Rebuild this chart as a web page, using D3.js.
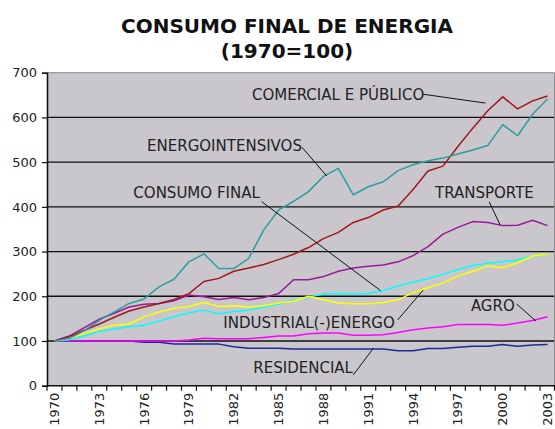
<!DOCTYPE html>
<html>
<head>
<meta charset="utf-8">
<script src="https://cdn.jsdelivr.net/npm/d3@7"></script>
<style>
  html, body { margin: 0; padding: 0; background: #fff; }
  #chart { width: 555px; height: 429px; }
</style>
</head>
<body>
<div id="chart"></div>
<script>
// anos 1970..2003
const years = d3.range(1970, 2004);
const yTicks = [0, 100, 200, 300, 400, 500, 600, 700];
const xLabelYears = years.filter(y => (y - 1970) % 3 === 0);

const energointensivos = [100, 106, 123, 146, 165, 184, 194, 221, 238, 277, 295, 262, 262, 285, 348, 393, 412, 434, 468, 486, 427, 445, 456, 481, 494, 503, 509, 518, 527, 537, 584, 559, 607, 641];
const comercial = [100, 110, 124, 138, 153, 167, 176, 184, 193, 206, 233, 240, 256, 263, 271, 282, 294, 309, 329, 343, 365, 376, 393, 402, 439, 480, 491, 535, 576, 615, 646, 619, 637, 648];
const transporte = [100, 111, 130, 149, 162, 176, 182, 184, 190, 203, 199, 193, 197, 192, 197, 206, 237, 237, 244, 256, 263, 267, 270, 277, 291, 311, 339, 354, 367, 365, 358, 359, 370, 358];
const industrial = [100, 106, 117, 127, 135, 138, 154, 165, 173, 177, 186, 177, 179, 176, 179, 185, 189, 200, 192, 185, 183, 183, 186, 192, 208, 219, 230, 245, 256, 268, 264, 275, 290, 294];
const consumoFinal = [100, 103, 111, 122, 127, 132, 135, 145, 154, 163, 169, 161, 166, 169, 176, 182, 191, 198, 205, 206, 205, 206, 213, 223, 232, 239, 249, 260, 269, 274, 277, 281, 290, 294];
const agro = [100, 100, 100, 100, 100, 100, 100, 100, 100, 102, 106, 105, 105, 105, 108, 111, 111, 116, 118, 118, 113, 113, 114, 119, 125, 129, 132, 137, 137, 137, 135, 140, 146, 154];
const residencial = [100, 100, 100, 100, 100, 100, 97, 97, 93, 93, 93, 93, 87, 84, 84, 84, 82, 82, 82, 82, 82, 82, 82, 78, 78, 83, 83, 86, 88, 88, 92, 88, 91, 92];

const series = [
  { name: 'RESIDENCIAL', values: residencial, color: '#1c2a9c' },
  { name: 'AGRO', values: agro, color: '#ff00ff' },
  { name: 'CONSUMO FINAL', values: consumoFinal, color: '#00ffff' },
  { name: 'INDUSTRIAL(-)ENERGO', values: industrial, color: '#ffff00' },
  { name: 'TRANSPORTE', values: transporte, color: '#9b189b' },
  { name: 'COMERCIAL E PÚBLICO', values: comercial, color: '#a0181e' },
  { name: 'ENERGOINTENSIVOS', values: energointensivos, color: '#2b9e9e' },
];

// rótulos: posição do texto e da linha de chamada em unidades de dados (ano, índice)
const labels = [
  { text: 'COMERCIAL E PÚBLICO', at: [1983.22, 639], from: [1994.64, 652], to: [1998.85, 632] },
  { text: 'ENERGOINTENSIVOS', at: [1976.2, 526], from: [1986.57, 533], to: [1988.22, 469] },
  { text: 'CONSUMO FINAL', at: [1975.28, 420.6], from: [1983.87, 411.6], to: [1991.83, 212.5] },
  { text: 'TRANSPORTE', at: [1995.47, 419], from: [1999.09, 411.6], to: [1999.83, 359.5] },
  { text: 'INDUSTRIAL(-)ENERGO', at: [1981.3, 128.4], from: [1992.97, 147], to: [1994.68, 214] },
  { text: 'AGRO', at: [1997.87, 167], from: [2000.93, 182.8], to: [2002.22, 144.7] },
  { text: 'RESIDENCIAL', at: [1983.31, 27.7], from: [1990.0, 24], to: [1991.34, 83.7] },
];

const W = 555, H = 429;
const pad = { top: 72.7, right: 0, bottom: 43.3, left: 47 };
const FONT = 'DejaVu Sans, Verdana, sans-serif';

const svg = d3.select('#chart').append('svg')
  .attr('width', W).attr('height', H)
  .style('display', 'block');

const x = d3.scaleBand().domain(years).range([pad.left, W - pad.right]).padding(0);
const y = d3.scaleLinear().domain([0, 700]).range([H - pad.bottom, pad.top]);
const bw = x.bandwidth();
const cx = d => x(d) + bw / 2;
const xl = d3.scaleLinear().domain([1970, 2003]).range([cx(1970), cx(2003)]);

// fundo do gráfico
svg.append('rect')
  .attr('x', pad.left).attr('y', pad.top)
  .attr('width', W - pad.right - pad.left).attr('height', y(0) - pad.top)
  .attr('fill', '#c9c7cc');

// grelha
svg.append('g').selectAll('line').data(yTicks.filter(t => t > 0 && t < 700)).enter().append('line')
  .attr('x1', pad.left).attr('x2', W - pad.right)
  .attr('y1', d => y(d)).attr('y2', d => y(d))
  .attr('stroke', '#111').attr('stroke-width', 1.3);

// borda superior e direita
svg.append('path')
  .attr('d', `M${pad.left},${y(700)}H${W - pad.right - 0.5}V${y(0)}`)
  .attr('fill', 'none').attr('stroke', '#8a8a8a').attr('stroke-width', 1);

// eixo y
const yAxis = svg.append('g')
  .attr('transform', `translate(${pad.left},0)`)
  .call(d3.axisLeft(y).tickValues(yTicks).tickSize(5).tickPadding(5));
yAxis.select('.domain').attr('stroke', '#111').attr('stroke-width', 1.6);
yAxis.selectAll('.tick line').attr('stroke', '#111').attr('stroke-width', 1.2);
yAxis.selectAll('text').attr('font-family', FONT).attr('font-size', 13).attr('fill', '#222');

// eixo x: marcas em cada limite de categoria
const xg = svg.append('g');
xg.append('line')
  .attr('x1', pad.left).attr('x2', W - pad.right)
  .attr('y1', y(0)).attr('y2', y(0))
  .attr('stroke', '#111').attr('stroke-width', 1.6);
xg.selectAll('line.tk').data(years.concat([2004])).enter().append('line')
  .attr('class', 'tk')
  .attr('x1', d => d === 2004 ? W - pad.right - 0.5 : x(d))
  .attr('x2', d => d === 2004 ? W - pad.right - 0.5 : x(d))
  .attr('y1', y(0)).attr('y2', y(0) + 5)
  .attr('stroke', '#111').attr('stroke-width', 1.2);
xg.selectAll('text').data(xLabelYears).enter().append('text')
  .attr('transform', d => `translate(${cx(d) + 4.5},${y(0) + 7}) rotate(-90)`)
  .attr('text-anchor', 'end')
  .attr('font-family', FONT).attr('font-size', 13).attr('fill', '#222')
  .text(d => d);

// séries
const line = d3.line()
  .defined(d => d.v != null)
  .x(d => cx(d.year))
  .y(d => y(d.v));

svg.append('g').selectAll('path').data(series).enter().append('path')
  .attr('d', s => line(s.values.map((v, i) => ({ year: years[i], v }))))
  .attr('fill', 'none')
  .attr('stroke', s => s.color)
  .attr('stroke-width', 1.5)
  .attr('stroke-linejoin', 'round');

// rótulos e linhas de chamada
const lg = svg.append('g');
labels.forEach(l => {
  lg.append('line')
    .attr('x1', xl(l.from[0])).attr('y1', y(l.from[1]))
    .attr('x2', xl(l.to[0])).attr('y2', y(l.to[1]))
    .attr('stroke', '#111').attr('stroke-width', 1);
  lg.append('text')
    .attr('x', xl(l.at[0])).attr('y', y(l.at[1]))
    .attr('font-family', FONT).attr('font-size', 15).attr('fill', '#222')
    .text(l.text);
});

// título
svg.append('text')
  .attr('x', 287).attr('y', 33)
  .attr('text-anchor', 'middle')
  .attr('font-family', FONT).attr('font-weight', 'bold').attr('font-size', 20)
  .attr('fill', '#111')
  .text('CONSUMO FINAL DE ENERGIA');
svg.append('text')
  .attr('x', 287).attr('y', 58)
  .attr('text-anchor', 'middle')
  .attr('font-family', FONT).attr('font-weight', 'bold').attr('font-size', 20)
  .attr('fill', '#111')
  .text('(1970=100)');
</script>
</body>
</html>
